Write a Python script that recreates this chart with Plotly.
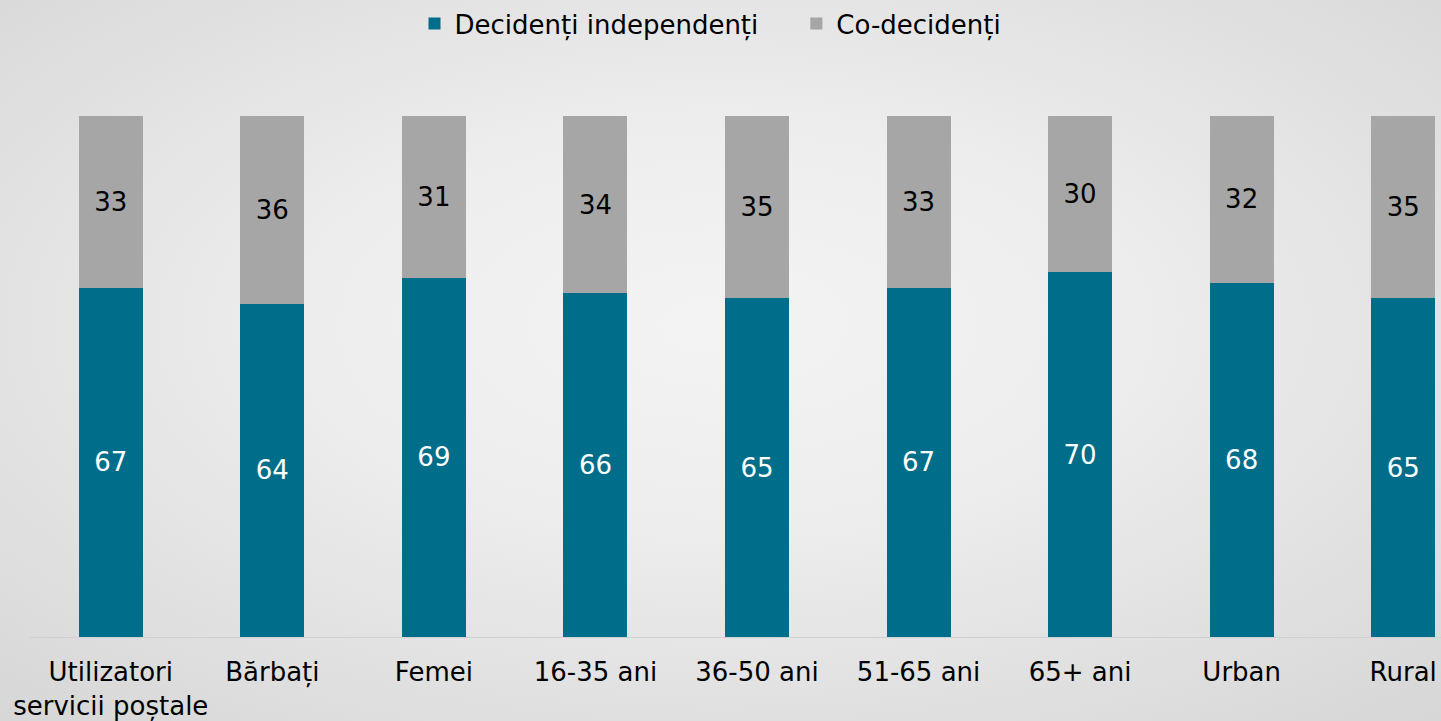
import base64
import plotly.graph_objects as go

categories = ["Utilizatori<br>servicii poștale", "Bărbați", "Femei", "16-35 ani",
              "36-50 ani", "51-65 ani", "65+ ani", "Urban", "Rural"]
independenti = [67, 64, 69, 66, 65, 67, 70, 68, 65]
co_decidenti = [33, 36, 31, 34, 35, 33, 30, 32, 35]
series_names = ["Decidenți independenți", "Co-decidenți"]

W, H = 1441, 721
ML, MR, MT, MB = 30, 0, 116, 84
PW, PH = W - ML - MR, H - MT - MB
FONT = "DejaVu Sans"
FS = 26

svg = f'''<svg xmlns="http://www.w3.org/2000/svg" width="{W}" height="{H}" viewBox="0 0 {W} {H}" preserveAspectRatio="none">
<defs><radialGradient id="g" cx="0.5" cy="0.45" r="0.75">
<stop offset="0" stop-color="#F3F3F3"/><stop offset="0.35" stop-color="#EEEEEE"/><stop offset="1" stop-color="#D6D6D6"/>
</radialGradient></defs><rect width="{W}" height="{H}" fill="url(#g)"/></svg>'''
bg_uri = "data:image/svg+xml;base64," + base64.b64encode(svg.encode()).decode()

fig = go.Figure()
fig.add_trace(go.Bar(
    x=categories, y=independenti, name=series_names[0] + "\u00a0" * 4,
    marker=dict(color="#006E8A", line=dict(width=0)),
    text=[str(v) for v in independenti], textposition="inside",
    insidetextanchor="middle", textangle=0,
    textfont=dict(color="white", size=FS, family=FONT),
))
fig.add_trace(go.Bar(
    x=categories, y=co_decidenti, name=series_names[1],
    marker=dict(color="#A6A6A6", line=dict(width=0)),
    text=[str(v) for v in co_decidenti], textposition="inside",
    insidetextanchor="middle", textangle=0,
    textfont=dict(color="black", size=FS, family=FONT),
))

fig.update_layout(
    width=W, height=H, barmode="stack", bargap=0.604,
    margin=dict(l=ML, r=MR, t=MT, b=MB),
    paper_bgcolor="#E6E6E6", plot_bgcolor="rgba(0,0,0,0)",
    font=dict(family=FONT, size=FS, color="black"),
    showlegend=True,
    legend=dict(orientation="h", x=0.5 - 10 / W, xanchor="center", xref="container",
                yref="container", y=1.0, yanchor="top",
                font=dict(size=FS, family=FONT),
                traceorder="normal", itemwidth=30, bgcolor="rgba(0,0,0,0)"),
    xaxis=dict(range=[-0.5, 8.5 - 43 / 161.55], showline=True, linecolor="#D0D0D0",
               linewidth=1, ticks="", showgrid=False, ticklabelstandoff=12,
               tickfont=dict(size=FS, family=FONT, color="black"), fixedrange=True),
    yaxis=dict(range=[0, 100], visible=False, showgrid=False, fixedrange=True),
    images=[dict(source=bg_uri, xref="paper", yref="paper",
                 x=-ML / PW, y=1 + MT / PH, sizex=W / PW, sizey=H / PH,
                 xanchor="left", yanchor="top", sizing="stretch", layer="below")],
)

fig.write_html("out.html", config={"displayModeBar": False},
               post_script="document.body.style.margin='0';document.body.style.padding='0';")
